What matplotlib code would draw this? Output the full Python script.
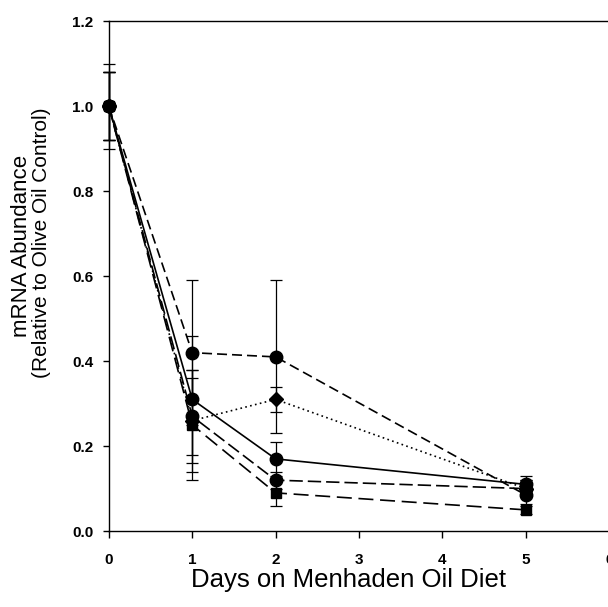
import matplotlib
matplotlib.use('Agg')
import matplotlib.pyplot as plt

plt.rcParams['font.family'] = ['Liberation Sans', 'DejaVu Sans']

days = [0, 1, 2, 5]

# five transcripts, all normalised to 1.0 at day 0
circ_a = [1.0, 0.42, 0.41, 0.085]
circ_a_err = [0.1, 0.17, 0.18, 0.02]
diam = [1.0, 0.26, 0.31, 0.10]
diam_err = [0.08, 0.12, 0.03, 0.02]
circ_solid = [1.0, 0.31, 0.17, 0.11]
circ_solid_err = [0.08, 0.15, 0.04, 0.02]
circ_b = [1.0, 0.27, 0.12, 0.10]
circ_b_err = [0.08, 0.09, 0.02, 0.02]
square = [1.0, 0.25, 0.09, 0.05]
square_err = [0.08, 0.13, 0.03, 0.01]

xticks = [0, 1, 2, 3, 4, 5, 6]
yticks = [0.0, 0.2, 0.4, 0.6, 0.8, 1.0, 1.2]

fig = plt.figure(figsize=(6.08, 6.07), dpi=100)
ax = fig.add_axes([0.179, 0.125, 0.823, 0.84])

series = [
    (circ_a, circ_a_err, 'o', (0, (6, 3))),
    (diam, diam_err, 'D', (0, (1, 2))),
    (circ_solid, circ_solid_err, 'o', '-'),
    (circ_b, circ_b_err, 'o', (0, (8, 3))),
    (square, square_err, 's', (0, (9, 4))),
]
for vals, err, mk, ls in series:
    ms = 7 if mk == 'D' else (7.5 if mk == 's' else 9)
    ax.errorbar(days, vals, yerr=err, color='black', marker=mk, markersize=ms,
                linestyle=ls, linewidth=1.2, elinewidth=0.9, capsize=4,
                capthick=0.9, clip_on=False)

ax.set_xlim(0, 6)
ax.set_ylim(0, 1.2)
ax.set_xticks(xticks)
ax.set_yticks(yticks)
ax.set_xticklabels([str(t) for t in xticks], fontweight='bold', fontsize=11)
ax.set_yticklabels(['%.1f' % t for t in yticks], fontweight='bold', fontsize=11)
ax.tick_params(axis='x', direction='out', length=5, width=1, pad=10.5)
ax.tick_params(axis='y', direction='out', length=4, width=1, pad=7)

ax.spines['right'].set_visible(False)
for s in ['left', 'bottom', 'top']:
    ax.spines[s].set_linewidth(1.0)

fig.text(0.574, 0.045, 'Days on Menhaden Oil Diet', fontsize=18.5,
         ha='center', va='center')
fig.text(0.036, 0.595, 'mRNA Abundance', rotation=90, fontsize=16,
         ha='center', va='center')
fig.text(0.068, 0.6, '(Relative to Olive Oil Control)', rotation=90,
         fontsize=15, ha='center', va='center')

fig.savefig('out.png', dpi=100)
